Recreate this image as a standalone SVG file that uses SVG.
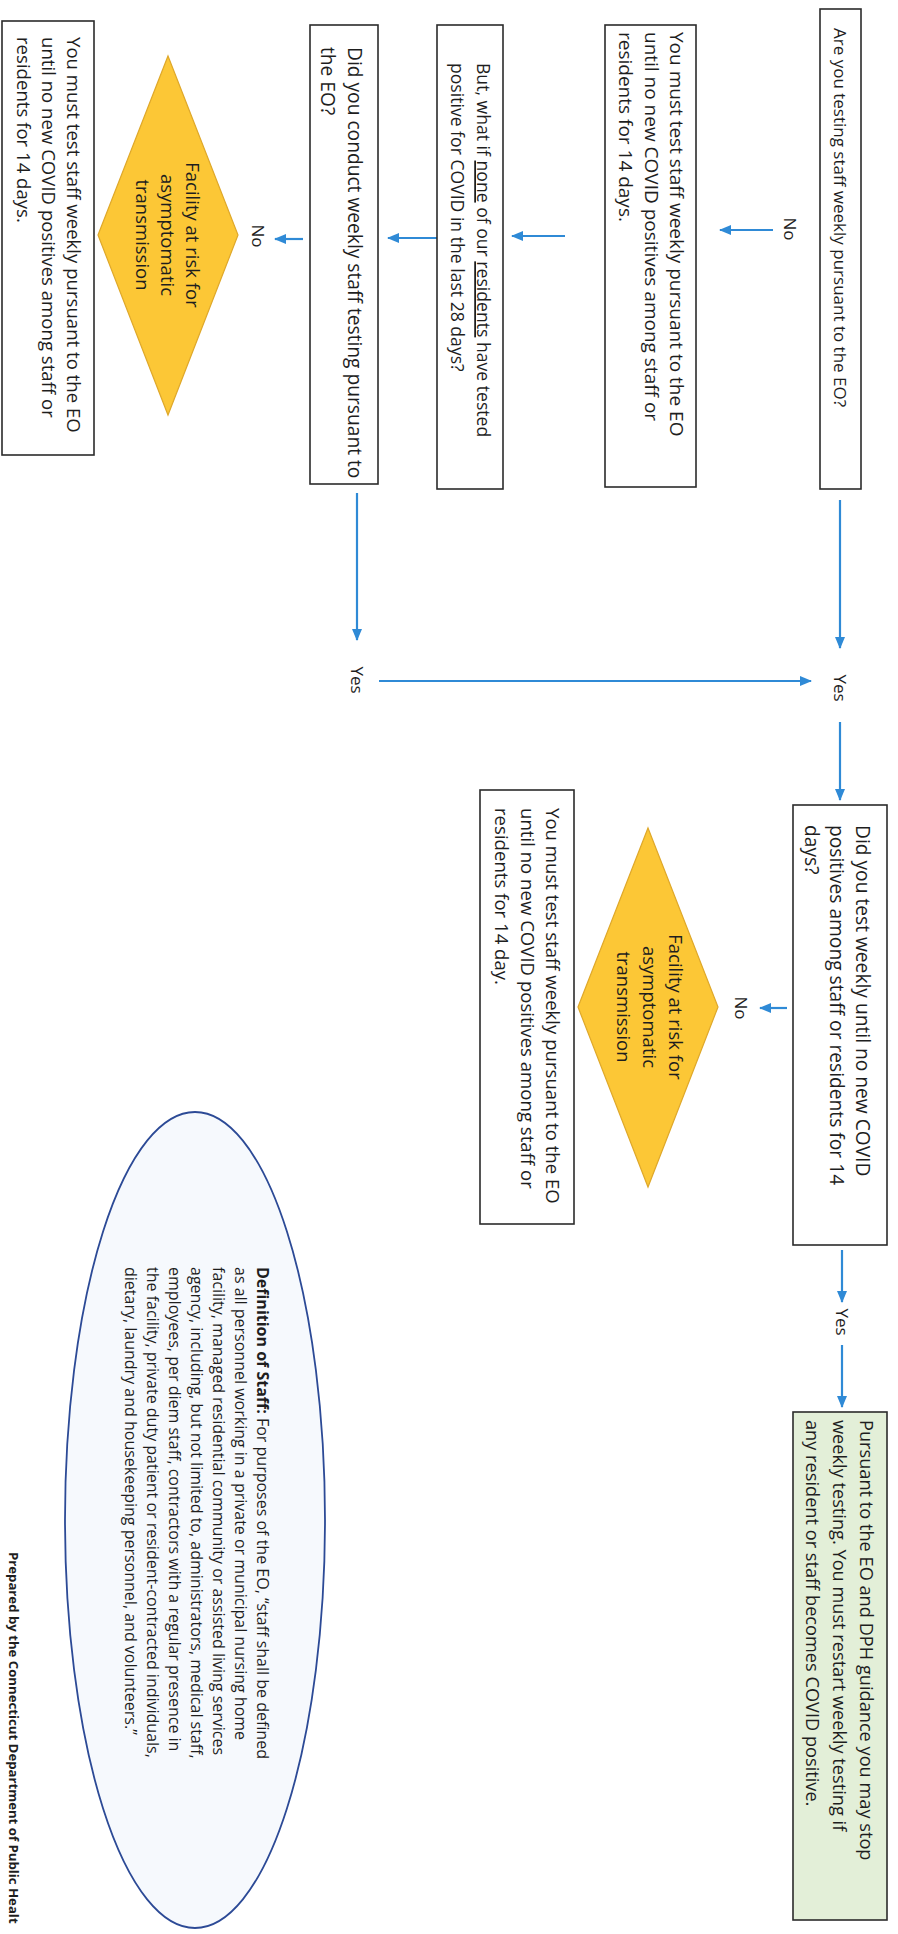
<svg xmlns="http://www.w3.org/2000/svg" width="898" height="1934" viewBox="0 0 898 1934">
<defs>
<style>
.box{fill:#ffffff;stroke:#2b2b2b;stroke-width:1.6}
.green{fill:#e3efd8;stroke:#2b2b2b;stroke-width:1.6}
.dia{fill:#fcc736;stroke:#dfa82a;stroke-width:1.2}
.ell{fill:#f6f9fd;stroke:#2c4a96;stroke-width:1.8}
.t{font-family:"Open Sans","Liberation Sans",sans-serif;fill:#1e1e1e}
.arr{stroke:#2f8ad6;stroke-width:2.2;fill:none;marker-end:url(#ah)}
</style>
<marker id="ah" viewBox="0 0 12 10" refX="11" refY="5" markerWidth="12" markerHeight="10" markerUnits="userSpaceOnUse" orient="auto"><path d="M0,0 L12,5 L0,10 Z" fill="#2f8ad6"/></marker>
</defs>
<rect width="898" height="1934" fill="#ffffff"/>
<g transform="translate(898,0) rotate(90)">
<g id="connectors">
<path class="arr" d="M230,125 L230,178"/>
<path class="arr" d="M236,333 L236,386"/>
<path class="arr" d="M238,461 L238,510"/>
<path class="arr" d="M239,595 L239,623"/>
<path class="arr" d="M500,58 L648,58"/>
<path class="arr" d="M722,58 L800,58"/>
<path class="arr" d="M493,541 L640,541"/>
<path class="arr" d="M681,519 L681,87"/>
<path class="arr" d="M1008,111 L1008,138"/>
<path class="arr" d="M1250,56 L1302,56"/>
<path class="arr" d="M1345,56 L1407,56"/>
<g class="t" font-size="17" text-anchor="middle">
<text x="229" y="114">No</text>
<text x="236" y="646">No</text>
<text x="1008" y="163">No</text>
<text x="688" y="64">Yes</text>
<text x="680" y="547">Yes</text>
<text x="1322" y="62">Yes</text>
</g>
</g>
<g id="nodeA">
<rect class="box" x="9" y="37" width="480" height="41"/>
<text class="t" x="28" y="64" font-size="17">Are you testing staff weekly pursuant to the EO?</text>
</g>
<g id="nodeD">
<rect class="box" x="25" y="202" width="462" height="91"/>
<text class="t" font-size="19"><tspan x="32" y="228">You must test staff weekly pursuant to the EO</tspan><tspan x="32" y="253.5">until no new COVID positives among staff or</tspan><tspan x="32" y="279">residents for 14 days.</tspan></text>
</g>
<g id="nodeE">
<rect class="box" x="25" y="395" width="464" height="66"/>
<text class="t" font-size="17.6"><tspan x="63" y="421">But, what if <tspan text-decoration="underline">none</tspan> of our <tspan text-decoration="underline">residents</tspan> have tested</tspan><tspan x="63" y="447">positive for COVID in the last 28 days?</tspan></text>
</g>
<g id="nodeF">
<rect class="box" x="25" y="520" width="459" height="68"/>
<text class="t" font-size="19.2"><tspan x="47" y="550">Did you conduct weekly staff testing pursuant to</tspan><tspan x="47" y="577">the EO?</tspan></text>
</g>
<g id="diamond1">
<polygon class="dia" points="56,730 235,660 415,730 235,800"/>
<text class="t" font-size="18.5" text-anchor="middle"><tspan x="235" y="712.5">Facility at risk for</tspan><tspan x="235" y="737.5">asymptomatic</tspan><tspan x="235" y="762.5">transmission</tspan></text>
</g>
<g id="nodeG">
<rect class="box" x="21" y="804" width="434" height="92"/>
<text class="t" font-size="18.6"><tspan x="37" y="831.5">You must test staff weekly pursuant to the EO</tspan><tspan x="37" y="856.5">until no new COVID positives among staff or</tspan><tspan x="37" y="881.5">residents for 14 days.</tspan></text>
</g>
<g id="nodeB">
<rect class="box" x="805" y="11" width="440" height="94"/>
<text class="t" font-size="19.2"><tspan x="825" y="42">Did you test weekly until no new COVID</tspan><tspan x="825" y="68">positives among staff or residents for 14</tspan><tspan x="825" y="93">days?</tspan></text>
</g>
<g id="diamond2">
<polygon class="dia" points="828,250 1007,180 1187,250 1007,320"/>
<text class="t" font-size="18.5" text-anchor="middle"><tspan x="1007" y="229.5">Facility at risk for</tspan><tspan x="1007" y="255.5">asymptomatic</tspan><tspan x="1007" y="281.5">transmission</tspan></text>
</g>
<g id="nodeH">
<rect class="box" x="790" y="324" width="434" height="94"/>
<text class="t" font-size="18.6"><tspan x="808" y="352.5">You must test staff weekly pursuant to the EO</tspan><tspan x="808" y="377.5">until no new COVID positives among staff or</tspan><tspan x="808" y="403.5">residents for 14 day.</tspan></text>
</g>
<g id="nodeC">
<rect class="green" x="1412" y="11" width="508" height="94"/>
<text class="t" font-size="18.2"><tspan x="1420" y="38">Pursuant to the EO and DPH guidance you may stop</tspan><tspan x="1420" y="65">weekly testing.  You must restart weekly testing if</tspan><tspan x="1420" y="92">any resident or staff becomes COVID positive.</tspan></text>
</g>
<g id="definition">
<ellipse class="ell" cx="1520" cy="703" rx="408" ry="130"/>
<text class="t" font-size="16"><tspan x="1267" y="641"><tspan font-weight="bold">Definition of Staff:</tspan> For purposes of the EO, “staff shall be defined</tspan><tspan x="1267" y="663">as all personnel working in a private or municipal nursing home</tspan><tspan x="1267" y="685">facility, managed residential community or assisted living services</tspan><tspan x="1267" y="707">agency, including, but not limited to, administrators, medical staff,</tspan><tspan x="1267" y="729">employees, per diem staff, contractors with a regular presence in</tspan><tspan x="1267" y="751">the facility, private duty patient or resident-contracted individuals,</tspan><tspan x="1267" y="773">dietary, laundry and housekeeping personnel, and volunteers.”</tspan></text>
</g>
<g id="footer">
<text class="t" x="1552" y="889" font-size="13.2" font-weight="bold">Prepared by the Connecticut Department of Public Healt</text>
</g>
</g>
</svg>
